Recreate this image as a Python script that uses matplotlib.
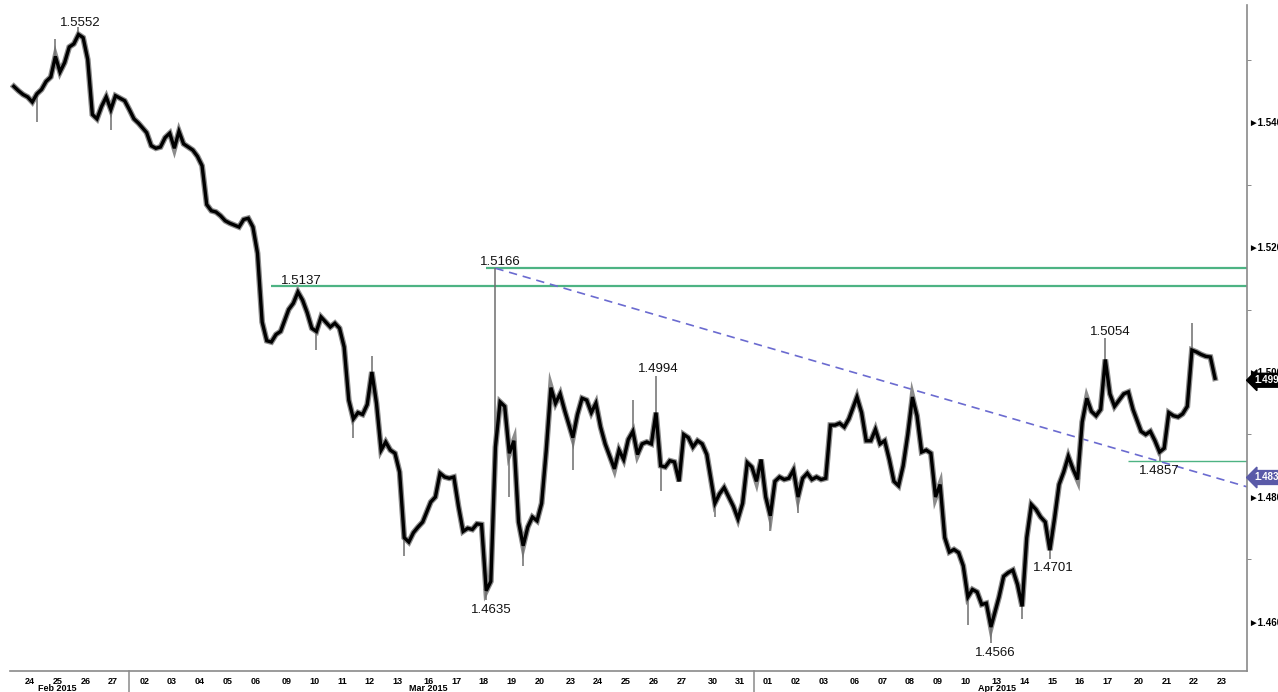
import numpy as np
import pandas as pd
import matplotlib
matplotlib.use("Agg")
import matplotlib.pyplot as plt

plt.rcParams['font.family'] = ['Liberation Sans', 'DejaVu Sans']

# trading days shown (Feb 23 only partly visible at the left edge)
days = pd.bdate_range("2015-02-23", "2015-04-23")

# 4-hour closes, six bars per day (Feb 23: last four bars, Apr 22: first five)
closes = [
    [1.5457, 1.5450, 1.5444, 1.5440],                  # Feb 23
    [1.5432, 1.5445, 1.5452, 1.5465, 1.5472, 1.5505],  # Feb 24
    [1.5480, 1.5495, 1.5520, 1.5525, 1.5540, 1.5535],  # Feb 25
    [1.5500, 1.5412, 1.5405, 1.5425, 1.5440, 1.5420],  # Feb 26
    [1.5442, 1.5438, 1.5434, 1.5420, 1.5405, 1.5398],  # Feb 27
    [1.5383, 1.5362, 1.5358, 1.5360, 1.5375, 1.5382],  # Mar 02
    [1.5358, 1.5385, 1.5365, 1.5360, 1.5355, 1.5345],  # Mar 03
    [1.5330, 1.5268, 1.5258, 1.5256, 1.5250, 1.5242],  # Mar 04
    [1.5238, 1.5235, 1.5232, 1.5244, 1.5246, 1.5232],  # Mar 05
    [1.5190, 1.5080, 1.5050, 1.5048, 1.5060, 1.5065],  # Mar 06
    [1.5100, 1.5110, 1.5128, 1.5115, 1.5095, 1.5070],  # Mar 09
    [1.5065, 1.5088, 1.5080, 1.5072, 1.5078, 1.5070],  # Mar 10
    [1.5040, 1.4955, 1.4925, 1.4935, 1.4932, 1.4948],  # Mar 11
    [1.5000, 1.4950, 1.4875, 1.4888, 1.4875, 1.4870],  # Mar 12
    [1.4840, 1.4735, 1.4728, 1.4743, 1.4752, 1.4760],  # Mar 13
    [1.4792, 1.4800, 1.4838, 1.4832, 1.4830, 1.4832],  # Mar 16
    [1.4785, 1.4745, 1.4750, 1.4748, 1.4757, 1.4756],  # Mar 17
    [1.4650, 1.4665, 1.4880, 1.4952, 1.4945, 1.4870],  # Mar 18
    [1.4890, 1.4760, 1.4722, 1.4752, 1.4768, 1.4762],  # Mar 19
    [1.4790, 1.4875, 1.4975, 1.4950, 1.4965, 1.4938],  # Mar 20
    [1.4895, 1.4932, 1.4958, 1.4955, 1.4935, 1.4950],  # Mar 23
    [1.4912, 1.4885, 1.4865, 1.4845, 1.4875, 1.4860],  # Mar 24
    [1.4892, 1.4905, 1.4868, 1.4885, 1.4888, 1.4885],  # Mar 25
    [1.4935, 1.4850, 1.4848, 1.4858, 1.4856, 1.4825],  # Mar 26
    [1.4900, 1.4895, 1.4880, 1.4890, 1.4885, 1.4868],  # Mar 27
    [1.4790, 1.4805, 1.4815, 1.4800, 1.4785, 1.4765],  # Mar 30
    [1.4790, 1.4855, 1.4848, 1.4825, 1.4860, 1.4800],  # Mar 31
    [1.4770, 1.4825, 1.4832, 1.4828, 1.4830, 1.4843],  # Apr 01
    [1.4800, 1.4830, 1.4838, 1.4828, 1.4832, 1.4828],  # Apr 02
    [1.4830, 1.4915, 1.4915, 1.4918, 1.4912, 1.4925],  # Apr 03
    [1.4960, 1.4935, 1.4890, 1.4890, 1.4908, 1.4885],  # Apr 06
    [1.4890, 1.4860, 1.4825, 1.4818, 1.4850, 1.4900],  # Apr 07
    [1.4960, 1.4930, 1.4872, 1.4875, 1.4870, 1.4800],  # Apr 08
    [1.4820, 1.4735, 1.4712, 1.4716, 1.4711, 1.4690],  # Apr 09
    [1.4640, 1.4652, 1.4648, 1.4628, 1.4630, 1.4592],  # Apr 10
    [1.4640, 1.4673, 1.4679, 1.4683, 1.4660, 1.4625],  # Apr 13
    [1.4735, 1.4788, 1.4780, 1.4768, 1.4760, 1.4715],  # Apr 14
    [1.4765, 1.4820, 1.4840, 1.4865, 1.4845, 1.4828],  # Apr 15
    [1.4920, 1.4958, 1.4937, 1.4930, 1.4940, 1.5020],  # Apr 16
    [1.4965, 1.4945, 1.4955, 1.4965, 1.4968, 1.4940],  # Apr 17
    [1.4905, 1.4900, 1.4905, 1.4890, 1.4872, 1.4878],  # Apr 20
    [1.4935, 1.4930, 1.4928, 1.4933, 1.4945, 1.5035],  # Apr 21
    [1.5032, 1.5028, 1.5025, 1.5024, 1.4990],          # Apr 22
]

# intrabar extremes (date, 4h bar of the day, price)
wicks = [
    ("2015-02-24", 1, 1.5400), ("2015-02-24", 5, 1.5533), ("2015-02-25", 4, 1.5552),
    ("2015-02-26", 5, 1.5387), ("2015-03-10", 0, 1.5035), ("2015-03-11", 2, 1.4895),
    ("2015-03-12", 0, 1.5025), ("2015-03-13", 1, 1.4705), ("2015-03-18", 0, 1.4635),
    ("2015-03-18", 2, 1.5166), ("2015-03-18", 5, 1.4800), ("2015-03-19", 2, 1.4689),
    ("2015-03-23", 0, 1.4843), ("2015-03-25", 1, 1.4955), ("2015-03-26", 0, 1.4994),
    ("2015-03-26", 1, 1.4810), ("2015-03-30", 0, 1.4768), ("2015-04-01", 0, 1.4745),
    ("2015-04-02", 0, 1.4775), ("2015-04-10", 0, 1.4595), ("2015-04-10", 5, 1.4566),
    ("2015-04-13", 5, 1.4605), ("2015-04-14", 5, 1.4701), ("2015-04-16", 5, 1.5054),
    ("2015-04-20", 4, 1.4857), ("2015-04-21", 5, 1.5078),
]

# labelled swing points: (date, bar, price, side, dx px, dy px)
swing_labels = [
    ("2015-02-25", 4, 1.5552, "above", 2, 1),
    ("2015-03-09", 2, 1.5137, "above", 3, 2),
    ("2015-03-18", 2, 1.5166, "above", 5, 3),
    ("2015-03-26", 0, 1.4994, "above", 2, 4),
    ("2015-03-18", 0, 1.4635, "below", 5, -4),
    ("2015-04-10", 5, 1.4566, "below", 4, -4),
    ("2015-04-14", 5, 1.4701, "below", 3, -3),
    ("2015-04-16", 5, 1.5054, "above", 5, 3),
    ("2015-04-20", 4, 1.4857, "below", 0, -4),
]

# horizontal levels: (price, start date, start bar, width)
levels = [
    (1.5137, "2015-03-06", 3, 1.6),
    (1.5166, "2015-03-18", 0, 1.6),
    (1.4857, "2015-04-17", 4, 1.0),
]

# trend line drawn through the two highs
trend_points = [("2015-03-18", 2, 1.5166), ("2015-04-08", 0, 1.4972)]

major_prices = [1.46, 1.48, 1.50, 1.52, 1.54]
minor_prices = [1.47, 1.49, 1.51, 1.53, 1.55]
month_labels = [("Feb 2015", "2015-02-25"), ("Mar 2015", "2015-03-16"), ("Apr 2015", "2015-04-13")]

# ---- time axis in trading hours (Sunday evening adds a few bars) ----
day_start = {}
pos = 0.0
for i, d in enumerate(days):
    if i > 0:
        pos += 24
        if d.weekday() == 0:
            pos += 3
    day_start[d.strftime("%Y-%m-%d")] = pos


def bar_x(date, k):
    return day_start[date] + 4 * k + 2


xs, ys = [], []
for i, vals in enumerate(closes):
    date = days[i].strftime("%Y-%m-%d")
    first = 6 - len(vals) if i == 0 else 0
    for j, v in enumerate(vals):
        xs.append(bar_x(date, first + j))
        ys.append(v)
close_at = dict(zip(xs, ys))

fig = plt.figure(figsize=(12.78, 6.92), dpi=100)
ax = fig.add_axes([10 / 1278, 21 / 692, 1237 / 1278, 666 / 692])
x_lo, x_hi = 6.7, 1077.7
ax.set_xlim(x_lo, x_hi)
ax.set_ylim(1.45216, 1.55872)

# price path
ax.plot(xs, ys, color="#8c8c8c", lw=4.2, zorder=3, solid_joinstyle="miter")
ax.plot(xs, ys, color="black", lw=2.4, zorder=4, solid_joinstyle="miter")
for date, k, p in wicks:
    x = bar_x(date, k)
    ax.vlines(x, close_at[x], p, color="#6e6e6e", lw=1.1, zorder=3)

# levels
for p, date, k, w in levels:
    ax.hlines(p, bar_x(date, k), x_hi, color="#4db383", lw=w, zorder=2)

# trend line
(d0, k0, p0), (d1, k1, p1) = trend_points
tx0, tx1 = bar_x(d0, k0), bar_x(d1, k1)
slope = (p1 - p0) / (tx1 - tx0)
ax.plot([tx0, x_hi], [p0, p0 + slope * (x_hi - tx0)], ls=(0, (5, 3.5)),
        color="#6b6bd0", lw=1.2, zorder=2)

for date, k, p, side, dx, dy in swing_labels:
    ax.annotate(f"{p:.4f}", xy=(bar_x(date, k), p), xytext=(dx, dy),
                textcoords="offset pixels", ha="center",
                va="baseline" if side == "above" else "top",
                fontsize=9.5, color="#111111", zorder=6)

# right price axis
for s in ["top", "left"]:
    ax.spines[s].set_visible(False)
for s in ["bottom", "right"]:
    ax.spines[s].set_color("#8a8a8a")
    ax.spines[s].set_linewidth(1.2)
ax.yaxis.tick_right()
ax.set_yticks(major_prices)
ax.set_yticklabels(["\u25ba" + f"{p:.4f}" for p in major_prices])
ax.set_yticks(minor_prices, minor=True)
ax.tick_params(axis="y", which="major", length=0, pad=1, labelsize=7)
ax.tick_params(axis="y", which="minor", length=3, color="#777777", direction="out")
for t in ax.get_yticklabels():
    t.set_fontweight("bold")

last_close = closes[-1][-1]
trend_last = p0 + slope * (xs[-1] - tx0)
ax.annotate(f"{last_close:.4f}", xy=(1, last_close), xycoords=("axes fraction", "data"),
            xytext=(7, -2), textcoords="offset pixels", ha="left", va="center",
            fontsize=7, fontweight="bold", color="white", annotation_clip=False, zorder=8,
            bbox=dict(boxstyle="larrow,pad=0.2", fc="black", ec="black"))
ax.annotate(f"{trend_last:.4f}", xy=(1, trend_last), xycoords=("axes fraction", "data"),
            xytext=(7, 0), textcoords="offset pixels", ha="left", va="center",
            fontsize=7, fontweight="bold", color="white", annotation_clip=False, zorder=8,
            bbox=dict(boxstyle="larrow,pad=0.2", fc="#5a5aa8", ec="#5a5aa8"))

# date axis
tick_days = [d for d in days if day_start[d.strftime("%Y-%m-%d")] > x_lo]
ax.set_xticks([day_start[d.strftime("%Y-%m-%d")] for d in tick_days])
ax.set_xticklabels([d.strftime("%d") for d in tick_days])
ax.tick_params(axis="x", length=0, pad=4, labelsize=6.5)
for t in ax.get_xticklabels():
    t.set_fontweight("bold")

trans = ax.get_xaxis_transform()
for a, b in zip(tick_days[:-1], tick_days[1:]):
    if a.month != b.month:
        xm = (day_start[a.strftime("%Y-%m-%d")] + day_start[b.strftime("%Y-%m-%d")]) / 2
        ax.plot([xm, xm], [0, -0.04], transform=trans, clip_on=False, color="#8a8a8a", lw=1.1)
for text, date in month_labels:
    ax.annotate(text, xy=(day_start[date], 0), xycoords=trans, xytext=(0, -13),
                textcoords="offset pixels", ha="center", va="top",
                fontsize=6.5, fontweight="bold", annotation_clip=False)

fig.savefig("out.png", dpi=100)
